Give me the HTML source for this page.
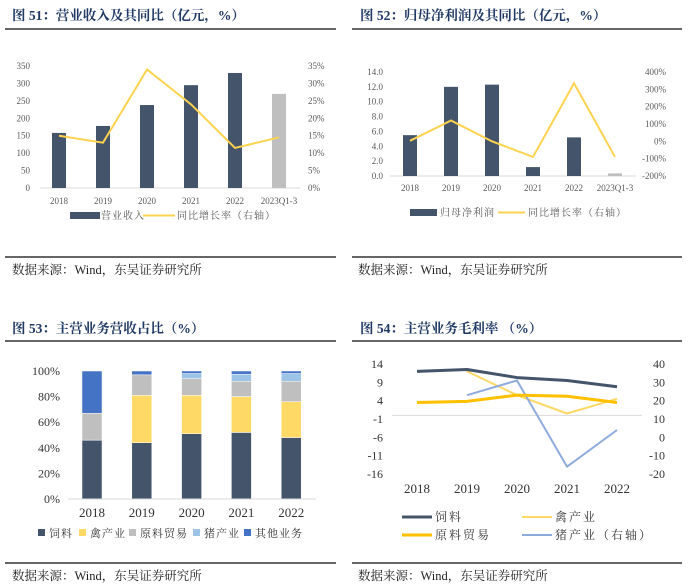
<!DOCTYPE html>
<html><head><meta charset="utf-8">
<style>
html,body{margin:0;padding:0;background:#fff;}
svg{display:block;}
text{font-family:"Liberation Serif","Noto Serif CJK SC",serif;}
.t{font-size:13.5px;font-weight:bold;fill:#1f3864;}
.s{font-size:12.5px;fill:#222;}
.ax{font-size:9px;fill:#595959;}
.lg{font-size:10px;fill:#595959;letter-spacing:1px;}
.ax2{font-size:12px;fill:#333;}
.ax3{font-size:13px;fill:#333;}
.lg2{font-size:12px;fill:#333;letter-spacing:2px;}
.lg3{font-size:11px;fill:#333;letter-spacing:1px;}
</style></head>
<body>
<svg id="root" width="700" height="585" viewBox="0 0 700 585" xmlns="http://www.w3.org/2000/svg">
<g>
<text class="t" x="12" y="20">图 51：营业收入及其同比（亿元，%）</text>
<line x1="5" y1="29" x2="336" y2="29" stroke="#333" stroke-width="1.5"/>
<line x1="5" y1="257" x2="336" y2="257" stroke="#333" stroke-width="1.5"/>
<text class="s" x="12" y="274">数据来源：Wind，东吴证券研究所</text>
<rect x="70" y="212" width="30" height="7" fill="#44546a"/>
<text class="lg" x="101" y="219">营业收入</text>
<line x1="143" y1="215.5" x2="175" y2="215.5" stroke="#ffd34e" stroke-width="2"/>
<text class="lg" x="177" y="219">同比增长率（右轴）</text>
</g>
<g id="c51"></g>
<g>
<text class="t" x="360" y="20">图 52：归母净利润及其同比（亿元，%）</text>
<line x1="352" y1="29" x2="682" y2="29" stroke="#333" stroke-width="1.5"/>
<line x1="352" y1="257" x2="682" y2="257" stroke="#333" stroke-width="1.5"/>
<text class="s" x="358" y="274">数据来源：Wind，东吴证券研究所</text>
<rect x="410" y="209" width="27" height="7" fill="#44546a"/>
<text class="lg" x="440" y="216">归母净利润</text>
<line x1="498" y1="212.5" x2="525" y2="212.5" stroke="#ffd34e" stroke-width="2"/>
<text class="lg" x="528" y="216">同比增长率（右轴）</text>
</g>
<g id="c52"></g>
<g>
<text class="t" x="12" y="333">图 53：主营业务营收占比（%）</text>
<line x1="5" y1="341" x2="336" y2="341" stroke="#333" stroke-width="1.5"/>
<line x1="5" y1="563" x2="336" y2="563" stroke="#333" stroke-width="1.5"/>
<text class="s" x="12" y="580">数据来源：Wind，东吴证券研究所</text>
</g>
<g id="c53"></g>
<g>
<text class="t" x="360" y="333">图 54：主营业务毛利率 （%）</text>
<line x1="352" y1="341" x2="682" y2="341" stroke="#333" stroke-width="1.5"/>
<line x1="352" y1="563" x2="682" y2="563" stroke="#333" stroke-width="1.5"/>
<text class="s" x="358" y="580">数据来源：Wind，东吴证券研究所</text>
<line x1="402" y1="517" x2="432" y2="517" stroke="#44546a" stroke-width="3"/>
<text class="lg2" x="435" y="521">饲料</text>
<line x1="522" y1="517" x2="552" y2="517" stroke="#ffd966" stroke-width="2"/>
<text class="lg2" x="555" y="521">禽产业</text>
<line x1="402" y1="535" x2="432" y2="535" stroke="#ffc000" stroke-width="3"/>
<text class="lg2" x="435" y="539">原料贸易</text>
<line x1="522" y1="535" x2="552" y2="535" stroke="#8faadc" stroke-width="2"/>
<text class="lg2" x="555" y="539">猪产业（右轴）</text>
</g>
<g id="c54"></g>
</svg>
<script>
const NS="http://www.w3.org/2000/svg";
// chart 51
const c51Cats=["2018","2019","2020","2021","2022","2023Q1-3"];
const c51Revenue=[158,178,238,295,330,270];
const c51Growth=[15,13,34,24,11.5,14.5];
const c51LeftTicks=[0,50,100,150,200,250,300,350];
const c51RightTicks=[0,5,10,15,20,25,30,35];
// chart 52
const c52Cats=["2018","2019","2020","2021","2022","2023Q1-3"];
const c52Profit=[5.5,12.0,12.3,1.2,5.2,0.35];
const c52Growth=[3,120,0,-90,335,-90];
const c52LeftTicks=[0,2,4,6,8,10,12,14];
const c52RightTicks=[-200,-100,0,100,200,300,400];
// chart 53
const c53Cats=["2018","2019","2020","2021","2022"];
const c53Feed=[46,44,51,52,48];
const c53Poultry=[0,37,30,28,28];
const c53Trade=[21,16,13,12,16];
const c53Pig=[0,0,4,5.5,6];
const c53Other=[33,3,2,2.5,2];
const c53Ticks=[0,20,40,60,80,100];
// chart 54
const c54Cats=["2018","2019","2020","2021","2022"];
const c54Feed=[12,12.5,10.3,9.5,7.8];
const c54Poultry=[null,12,5.5,0.5,4.5];
const c54Trade=[3.5,3.8,5.5,5.2,3.5];
const c54Pig=[null,23,31,-16,4];
const c54LeftTicks=[14,9,4,-1,-6,-11,-16];
const c54RightTicks=[40,30,20,10,0,-10,-20];

function mk(parent,tag,attrs,txt){const e=document.createElementNS(NS,tag);for(const k in attrs)e.setAttribute(k,attrs[k]);if(txt!==undefined)e.textContent=txt;parent.appendChild(e);return e;}
function lin(d0,d1,r0,r1){return v=>r0+(v-d0)/(d1-d0)*(r1-r0);}

// ---- chart 51
(function(){
const g=document.getElementById('c51');
const y=lin(0,350,188,66), yr=lin(0,35,188,66);
const x=i=>59+i*44;
mk(g,'line',{x1:40,y1:188,x2:300,y2:188,stroke:'#d9d9d9'});
c51LeftTicks.forEach(t=>{const e=mk(g,'text',{class:'ax',x:30,y:y(t)+3,'text-anchor':'end'},t);

});
c51RightTicks.forEach(t=>{const e=mk(g,'text',{class:'ax',x:308,y:yr(t)+3},t+'%');

});
c51Cats.forEach((c,i)=>{const e=mk(g,'text',{class:'ax',x:x(i),y:204,'text-anchor':'middle'},c);

});
c51Revenue.forEach((v,i)=>{const r=mk(g,'rect',{x:x(i)-7,y:y(v),width:14,height:188-y(v),fill:i===5?'#bfbfbf':'#44546a'});

});
const p=mk(g,'polyline',{points:c51Growth.map((v,i)=>x(i)+','+yr(v)).join(' '),fill:'none',stroke:'#ffd34e','stroke-width':2});


})();

// ---- chart 52
(function(){
const g=document.getElementById('c52');
const y=lin(0,14,176,72), yr=lin(-200,400,176,72);
const x=i=>410+i*41;
mk(g,'line',{x1:390,y1:176,x2:636,y2:176,stroke:'#d9d9d9'});
c52LeftTicks.forEach(t=>{const e=mk(g,'text',{class:'ax',x:383,y:y(t)+3,'text-anchor':'end'},t.toFixed(1));

});
c52RightTicks.forEach(t=>{const e=mk(g,'text',{class:'ax',x:666,y:yr(t)+3,'text-anchor':'end'},t+'%');

});
c52Cats.forEach((c,i)=>{const e=mk(g,'text',{class:'ax',x:x(i),y:191,'text-anchor':'middle'},c);

});
c52Profit.forEach((v,i)=>{const r=mk(g,'rect',{x:x(i)-7,y:y(v),width:14,height:176-y(v),fill:i===5?'#bfbfbf':'#44546a'});

});
const p=mk(g,'polyline',{points:c52Growth.map((v,i)=>x(i)+','+yr(v)).join(' '),fill:'none',stroke:'#ffd34e','stroke-width':2});


})();

// ---- chart 53
(function(){
const g=document.getElementById('c53');
const y=lin(0,100,499,371);
const x=i=>92+i*49.8;
c53Ticks.forEach(t=>{const e=mk(g,'text',{class:'ax2',x:60,y:y(t)+4,'text-anchor':'end'},t+'%');

});
const series=[[c53Feed,'#44546a'],[c53Poultry,'#ffd966'],[c53Trade,'#bfbfbf'],[c53Pig,'#9dc3e6'],[c53Other,'#4472c4']];
c53Cats.forEach((c,i)=>{let acc=0;
series.forEach(([arr,col])=>{const v=arr[i];if(v>0){const r=mk(g,'rect',{x:x(i)-10,y:y(acc+v),width:20,height:y(acc)-y(acc+v),fill:col,stroke:'#fff','stroke-width':0.5});

}acc+=v;});
const e=mk(g,'text',{class:'ax3',x:x(i),y:517,'text-anchor':'middle'},c);

});
mk(g,'line',{x1:68,y1:499,x2:316,y2:499,stroke:'#d9d9d9'});
const names=['饲料','禽产业','原料贸易','猪产业','其他业务'];
const lx=[38,79,129,193,244];
names.forEach((n,k)=>{mk(g,'rect',{x:lx[k],y:529,width:7,height:7,fill:series[k][1]});
const e=mk(g,'text',{class:'lg3',x:lx[k]+11,y:537},n);

});
})();

// ---- chart 54
(function(){
const g=document.getElementById('c54');
const y=lin(-16,14,474,364), yr=lin(-20,40,474,364);
const x=i=>417+i*50;
mk(g,'line',{x1:392,y1:y(0),x2:642,y2:y(0),stroke:'#d9d9d9'});
c54LeftTicks.forEach(t=>{const e=mk(g,'text',{class:'ax2',x:383,y:y(t)+4,'text-anchor':'end'},t);

});
c54RightTicks.forEach(t=>{const e=mk(g,'text',{class:'ax2',x:665,y:yr(t)+4,'text-anchor':'end'},t);

});
c54Cats.forEach((c,i)=>{const e=mk(g,'text',{class:'ax3',x:x(i),y:493,'text-anchor':'middle'},c);

});
function line(arr,sc,col,w,name){const pts=[];arr.forEach((v,i)=>{if(v!==null)pts.push(x(i)+','+sc(v));});
const p=mk(g,'polyline',{points:pts.join(' '),fill:'none',stroke:col,'stroke-width':w,'stroke-linejoin':'round'});

}
line(c54Poultry,y,'#ffd966',2,'poultry-line');
line(c54Pig,yr,'#8faadc',2,'pig-line');
line(c54Trade,y,'#ffc000',3,'trade-line');
line(c54Feed,y,'#44546a',3,'feed-line');
})();
</script>
</body></html>
